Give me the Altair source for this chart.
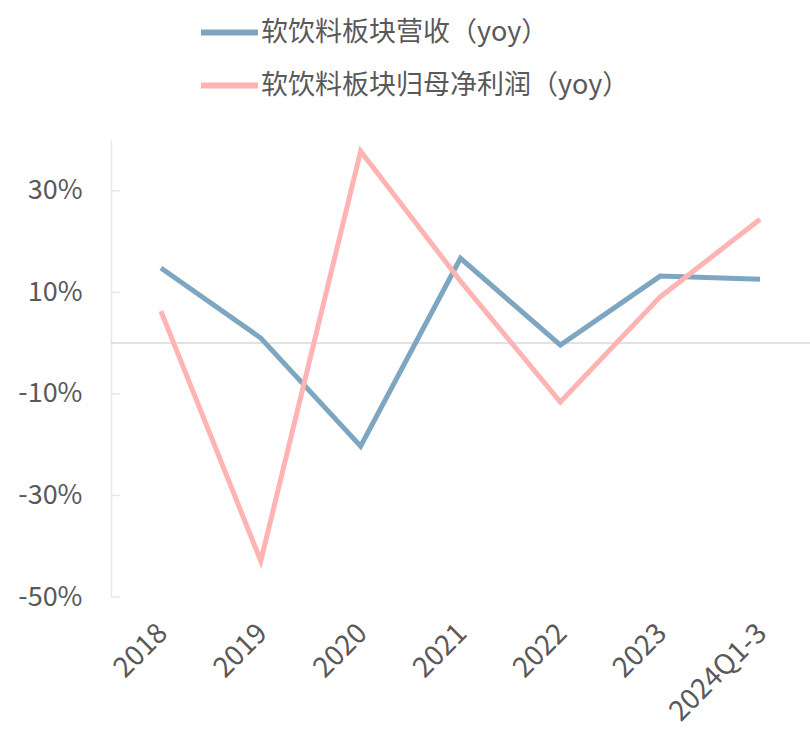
import altair as alt
import pandas as pd

periods = ["2018", "2019", "2020", "2021", "2022", "2023", "2024Q1-3"]
revenue_yoy = [14.8, 1.0, -20.3, 16.7, -0.4, 13.2, 12.6]
profit_yoy = [6.3, -42.9, 37.8, 12.2, -11.6, 9.1, 24.4]
series_names = ["软饮料板块营收（yoy）", "软饮料板块归母净利润（yoy）"]
series_colors = ["#7fa6c0", "#ffb3b3"]
y_ticks = [-50, -30, -10, 10, 30]

rows = []
for p, v in zip(periods, revenue_yoy):
    rows.append({"period": p, "value": v, "series": series_names[0]})
for p, v in zip(periods, profit_yoy):
    rows.append({"period": p, "value": v, "series": series_names[1]})
df = pd.DataFrame(rows)

FONT = "Noto Sans CJK SC"
TXT = "#595959"
AXC = "#ebe7dc"

x_enc = alt.X(
    "period:O", sort=periods, scale=alt.Scale(padding=0.5),
    axis=alt.Axis(title=None, labelAngle=-45, labelFontSize=28, labelColor=TXT,
                  labelFont=FONT, domain=False, ticks=False, labelPadding=22,
                  labelOffset=-8),
)
y_scale = alt.Scale(domain=[-50, 40], nice=False, zero=False)
y_axis = alt.Axis(title=None, values=y_ticks, labelExpr="datum.value + '%'",
                  grid=False, ticks=False, domainColor=AXC, domainWidth=1.5,
                  labelFontSize=27, labelColor=TXT, labelFont=FONT, labelPadding=29)


def y_enc():
    return alt.Y("value:Q", scale=y_scale, axis=y_axis)


lines = alt.Chart(df).mark_line(strokeWidth=5).encode(
    x=x_enc, y=y_enc(),
    color=alt.Color(
        "series:N",
        scale=alt.Scale(domain=series_names, range=series_colors),
        legend=alt.Legend(
            title=None, orient="none", legendX=87, legendY=-139, direction="vertical",
            symbolType="stroke", symbolSize=3249, symbolStrokeWidth=6,
            labelFontSize=27, labelFont=FONT, labelColor=TXT, labelOffset=0,
            rowPadding=8, padding=0, labelLimit=600,
        ),
    ),
)

zero_df = pd.DataFrame({"value": [0]})
zero = alt.Chart(zero_df).mark_rule(color="#d9d9d9", strokeWidth=1.5).encode(
    y=y_enc(), x=alt.value(0), x2=alt.value(720)
)
tick_df = pd.DataFrame({"value": y_ticks})
ticks = alt.Chart(tick_df).mark_rule(color=AXC, strokeWidth=1.5).encode(
    y=y_enc(), x=alt.value(0), x2=alt.value(9)
)

chart = alt.layer(zero, ticks, lines).properties(
    width=699, height=457,
    autosize=alt.AutoSizeParams(type="none"),
    padding={"left": 111, "top": 140, "right": 0, "bottom": 125},
).configure_view(stroke=None)

chart.save("out.html", embed_options={"renderer": "svg", "actions": False})
